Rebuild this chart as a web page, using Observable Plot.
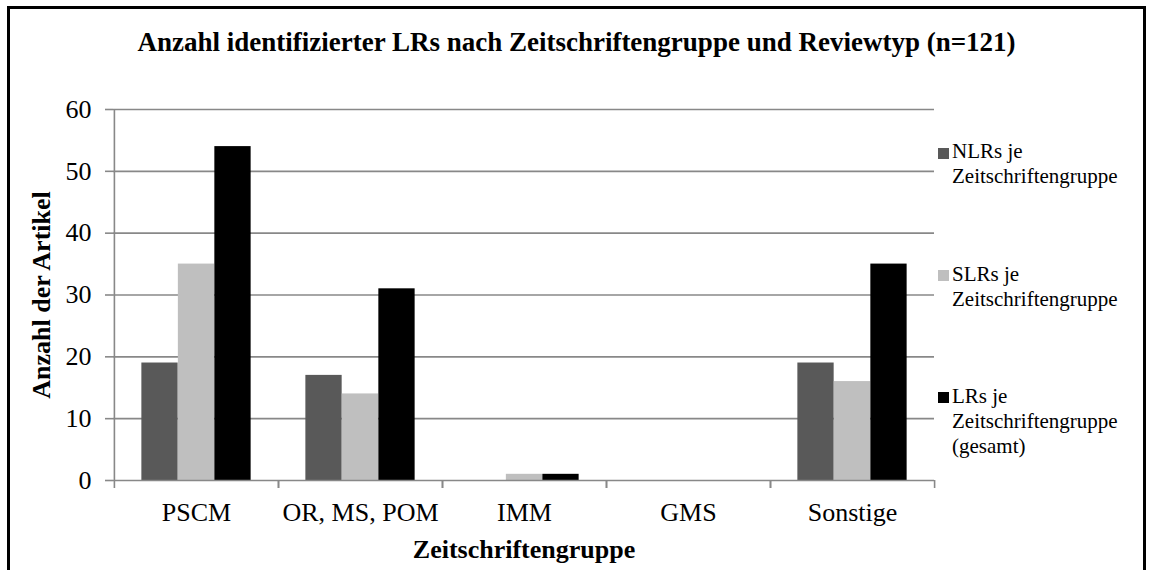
<!DOCTYPE html>
<html>
<head>
<meta charset="utf-8">
<script src="https://cdn.jsdelivr.net/npm/d3@7"></script>
<script src="https://cdn.jsdelivr.net/npm/@observablehq/plot@0.6"></script>
<style>
  html, body { margin: 0; padding: 0; background: #fff; }
  #wrap { position: relative; width: 1149px; height: 570px; overflow: hidden; font-family: "Liberation Serif", "Times New Roman", serif; }
  #border { position: absolute; left: 7px; top: 6px; width: 1133px; height: 620px; border: 3px solid #000; box-sizing: content-box; }
  #chart { position: absolute; left: 0; top: 0; }
  #title { position: absolute; left: 2px; width: 1149px; top: 29px; text-align: center; font-size: 27px; font-weight: bold; line-height: 1; white-space: nowrap; }
  .leg { position: absolute; left: 952px; width: 185px; font-size: 21px; line-height: 25px; }
  .sw { position: absolute; left: -14px; top: 8.5px; width: 11px; height: 11px; }
</style>
</head>
<body>
<div id="wrap">
  <div id="border"></div>
  <div id="chart"></div>
  <div id="title"></div>
  <div id="legend"></div>
</div>
<script>
const title = "Anzahl identifizierter LRs nach Zeitschriftengruppe und Reviewtyp (n=121)";
const categories = ["PSCM", "OR, MS, POM", "IMM", "GMS", "Sonstige"];
const seriesNames = ["NLRs je Zeitschriftengruppe", "SLRs je Zeitschriftengruppe", "LRs je Zeitschriftengruppe (gesamt)"];
const nlrValues = [19, 17, 0, 0, 19];
const slrValues = [35, 14, 1, 0, 16];
const lrValues = [54, 31, 1, 0, 35];
const seriesColors = ["#595959", "#bfbfbf", "#000000"];
const yTicks = [0, 10, 20, 30, 40, 50, 60];
const xTitle = "Zeitschriftengruppe";
const yTitle = "Anzahl der Artikel";

const W = 1149, H = 570;
const mL = 113, mR = 215, mT = 109, mB = 90;
const step = (W - mL - mR) / categories.length;
const bw = step / 4.5;
const pad = step * 0.75 / 4.5;
const gray = "#888888";
const font = '"Liberation Serif", "Times New Roman", serif';

const seriesValues = [nlrValues, slrValues, lrValues];
const rows = [];
seriesValues.forEach((vals, si) => vals.forEach((v, ci) => rows.push({cat: categories[ci], series: seriesNames[si], si, value: v})));

const barMarks = seriesNames.map((s, i) =>
  Plot.barY(rows.filter(r => r.si === i), {
    x: "cat", y: "value", fill: seriesColors[i],
    insetLeft: pad + i * bw, insetRight: step - pad - (i + 1) * bw
  })
);

const chart = Plot.plot({
  width: W, height: H,
  marginLeft: mL, marginRight: mR, marginTop: mT, marginBottom: mB,
  style: {fontFamily: font, background: "transparent", color: "#000"},
  x: {type: "band", domain: categories, padding: 0, label: null},
  y: {domain: [0, 60], label: null},
  marks: [
    Plot.gridY({ticks: yTicks.filter(v => v > 0), stroke: gray, strokeOpacity: 1, strokeWidth: 1.6}),
    Plot.axisY({ticks: yTicks, tickSize: 8, tickPadding: 14, fontSize: 26, stroke: gray, strokeWidth: 1.6, fill: "#000", label: null}),
    Plot.axisX({tickSize: 0, tickPadding: 22, fontSize: 26, fill: "#000", label: null}),
    Plot.axisX({tickSize: 8, tickFormat: () => "", dx: -step / 2, stroke: gray, strokeWidth: 1.6, label: null}),
    Plot.axisX({tickSize: 8, tickFormat: () => "", dx: step / 2, stroke: gray, strokeWidth: 1.6, label: null}),
    ...barMarks,
    Plot.ruleY([0], {stroke: gray, strokeWidth: 1.6}),
    Plot.ruleX([categories[0]], {x: d => d, dx: -step / 2, stroke: gray, strokeWidth: 1.6}),
    Plot.text([yTitle], {text: d => d, frameAnchor: "left", textAnchor: "middle", lineAnchor: "middle", dx: -72, rotate: -90, fontSize: 26, fontWeight: "bold", fill: "#000"}),
    Plot.text([xTitle], {text: d => d, frameAnchor: "bottom", textAnchor: "middle", lineAnchor: "middle", dy: 69, fontSize: 26, fontWeight: "bold", fill: "#000"})
  ]
});
document.getElementById("chart").appendChild(chart);
document.getElementById("title").textContent = title;

const legendTops = [139, 261.5, 383.5];
const legend = document.getElementById("legend");
seriesNames.forEach((s, i) => {
  const d = document.createElement("div");
  d.className = "leg";
  d.style.top = legendTops[i] + "px";
  const sw = document.createElement("span");
  sw.className = "sw";
  sw.style.background = seriesColors[i];
  d.appendChild(sw);
  d.appendChild(document.createTextNode(s));
  legend.appendChild(d);
});
</script>
</body>
</html>
